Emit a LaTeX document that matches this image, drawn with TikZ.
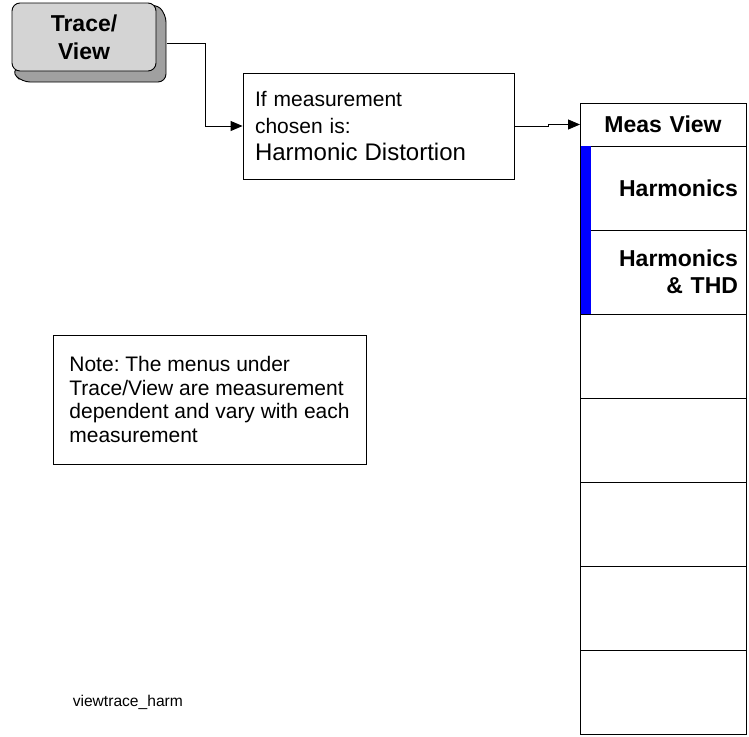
\documentclass[tikz,border=0pt]{standalone}
\usepackage{fontspec}
\setmainfont{Liberation Sans}
\usepackage{tikz}
\usetikzlibrary{arrows.meta,positioning}
\definecolor{kface}{HTML}{D4D4D4}
\definecolor{kside}{HTML}{A0A0A0}
\definecolor{kblue}{HTML}{0000FF}
\tikzset{>={Triangle[length=12pt,width=10pt]}}
\tikzset{
  keyface/.style={draw,fill=kface,rounded corners=8pt,minimum width=144pt,minimum height=68pt,
    inner sep=0pt,align=center,font=\fontsize{23}{28}\selectfont\bfseries},
  condbox/.style={draw,fill=white,text width=247pt,inner xsep=12pt,minimum height=106pt,
    align=left,font=\fontsize{21}{27}\selectfont},
  notebox/.style={draw,minimum width=313pt,minimum height=129pt,
    align=left,font=\fontsize{21}{23.5}\selectfont},
  menucell/.style={draw,outer sep=0pt,minimum width=166pt,minimum height=84pt,text width=150pt,
    inner xsep=8pt,inner ysep=0pt,align=right,font=\fontsize{23}{27}\selectfont\bfseries},
}
\frenchspacing

\begin{document}
\begin{tikzpicture}[x=1pt,y=-1pt,line width=0.9pt]
\useasboundingbox (0,0) rectangle (749,736);

% ============ Trace/View key ============
\filldraw[fill=kside,rounded corners=8pt] (155,3) -- (166,14) -- (166,82) -- (22,82) -- (11,71) -- cycle;
\node[keyface] (key) at (84,37) {Trace/\\View};

% ============ condition box ============
\node[condbox] (cond) at (378.5,126) {If measurement\\chosen is:\\{\fontsize{24}{28}\selectfont Harmonic Distortion}};
\draw[->] ([shift={(11pt,-6pt)}]key.east) -- ++(38,0) |- (cond.west);

% ============ Meas View menu ============
\node[menucell,minimum height=43pt,align=center] (meas) at (663,124.5) {Meas View};
\node[menucell,below=0pt of meas] (harm) {Harmonics};
\node[menucell,below=0pt of harm] (thd) {Harmonics\\\& THD};
\foreach \i in {1,...,5} {\node[menucell] (blank\i) at (663,{272+84*\i}) {};}
\fill[kblue] ([xshift=0.5pt]harm.north west) rectangle ([xshift=10.5pt]thd.south west);
\draw[->] (cond.east) -- ++(34,0) |- (meas.west);

% ============ note ============
\node[notebox] (note) at (209.5,399.5) {Note: The menus under\\Trace/View are measurement\\dependent and vary with each\\measurement};
\node[anchor=base west,font=\fontsize{15.6}{18}\selectfont] (figname) at (69,706) {viewtrace\_harm};

\end{tikzpicture}
\end{document}
